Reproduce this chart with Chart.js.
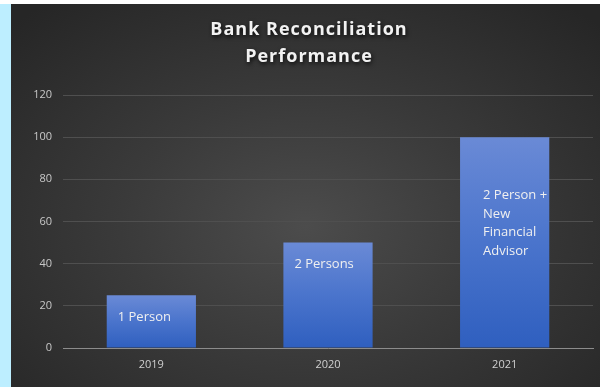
<!DOCTYPE html>
<html>
<head>
<meta charset="utf-8">
<script src="https://cdn.jsdelivr.net/npm/chart.js@4/dist/chart.umd.min.js"></script>
<style>
  html, body { margin: 0; padding: 0; background: #ffffff; }
  body { width: 600px; height: 387px; position: relative; overflow: hidden; }
  #strip { position: absolute; left: 0; top: 4px; width: 11px; height: 383px; background: #bdeeff; }
  #panel {
    position: absolute; left: 11px; top: 4px; width: 589px; height: 383px;
    background: radial-gradient(ellipse 70% 75% at 50% 58%, #4c4c4c 0%, #3a3a3a 45%, #262626 100%);
  }
</style>
</head>
<body>
<div id="strip"></div>
<div id="panel"><canvas id="chart" width="589" height="383"></canvas></div>
<script>
// данные графика
const years = ["2019", "2020", "2021"];
const values = [25, 50, 100];
const barNotes = [["1 Person"], ["2 Persons"], ["2 Person +", "New", "Financial", "Advisor"]];
const titleLines = ["Bank Reconciliation", "Performance"];

// заголовок с тенью и разрядкой
const titlePlugin = {
  id: "shadowTitle",
  afterDraw(chart) {
    const ctx = chart.ctx;
    ctx.save();
    ctx.font = "bold 18px 'Open Sans', sans-serif";
    ctx.letterSpacing = "1px";
    ctx.textAlign = "center";
    ctx.textBaseline = "middle";
    ctx.fillStyle = "#f2f2f2";
    ctx.shadowColor = "rgba(0,0,0,0.8)";
    ctx.shadowBlur = 4;
    ctx.shadowOffsetX = 1;
    ctx.shadowOffsetY = 2;
    titleLines.forEach((line, i) => ctx.fillText(line, 298, 26 + i * 27));
    ctx.restore();
  },
};

// подписи внутри столбцов
const notesPlugin = {
  id: "barNotes",
  afterDatasetsDraw(chart) {
    const ctx = chart.ctx;
    const meta = chart.getDatasetMeta(0);
    ctx.save();
    ctx.font = "13px 'Open Sans', sans-serif";
    ctx.fillStyle = "#f0f0f0";
    ctx.textAlign = "left";
    ctx.textBaseline = "middle";
    meta.data.forEach((bar, i) => {
      const left = bar.x - bar.width / 2 + (i === 2 ? 23 : 11);
      const lines = barNotes[i];
      const startY = i === 2 ? bar.y + 58 : bar.y + 22;
      lines.forEach((t, j) => ctx.fillText(t, left, startY + j * 18.7));
    });
    ctx.restore();
  },
};

function barGradient(context) {
  const chart = context.chart;
  if (!chart.chartArea || context.dataIndex === undefined) return "#4472c4";
  const y = chart.scales.y;
  const top = y.getPixelForValue(values[context.dataIndex]);
  const bottom = y.getPixelForValue(0);
  const g = chart.ctx.createLinearGradient(0, top, 0, bottom);
  g.addColorStop(0, "#6a8ad6");
  g.addColorStop(0.5, "#4a74cc");
  g.addColorStop(1, "#2f5fbf");
  return g;
}

new Chart(document.getElementById("chart"), {
  type: "bar",
  data: {
    labels: years,
    datasets: [
      {
        data: values,
        backgroundColor: barGradient,
        borderWidth: 0,
        barPercentage: 0.505,
        categoryPercentage: 1,
      },
    ],
  },
  options: {
    responsive: false,
    animation: false,
    layout: { padding: { left: 0, right: 7, top: 91, bottom: 0 } },
    plugins: { legend: { display: false }, tooltip: { enabled: false }, title: { display: false } },
    scales: {
      x: {
        grid: { display: false, drawTicks: false },
        border: { color: "#8c8c8c", width: 1 },
        ticks: { color: "#d0d0d0", font: { size: 11, family: "'Open Sans', sans-serif" }, padding: 10 },
        afterFit(scale) { scale.height = 39; },
      },
      y: {
        min: 0,
        max: 120,
        ticks: { stepSize: 20, color: "#c8c8c8", font: { size: 11, family: "'Open Sans', sans-serif" }, padding: 11 },
        grid: { color: "#4f4f4f", drawTicks: false },
        border: { display: false },
        afterFit(scale) { scale.width = 52; },
      },
    },
  },
  plugins: [titlePlugin, notesPlugin],
});
</script>
</body>
</html>
